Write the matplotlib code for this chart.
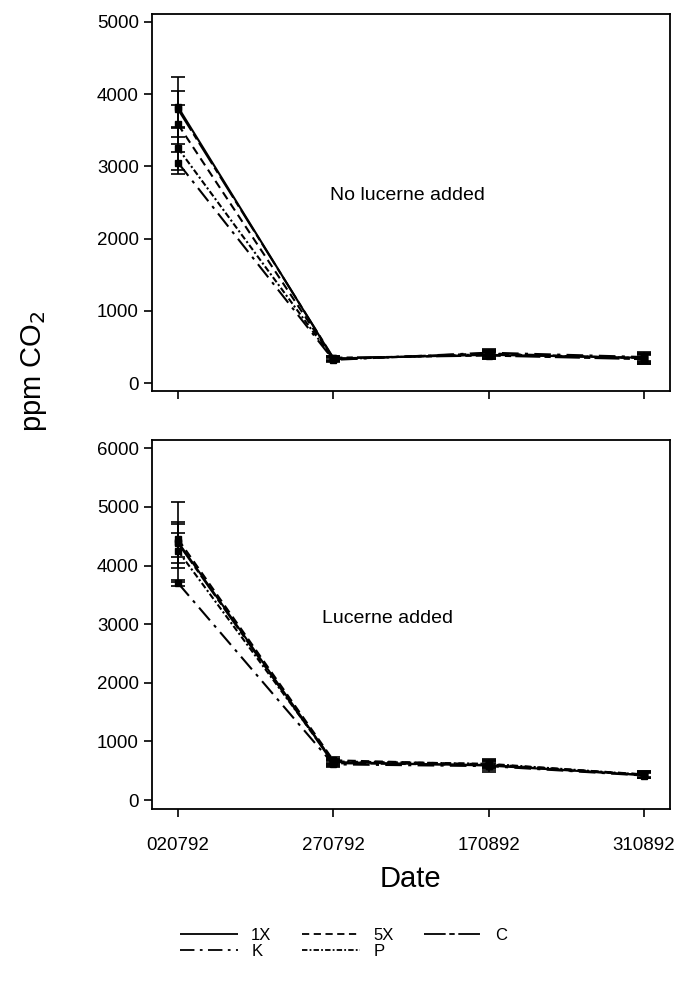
import matplotlib
matplotlib.use("Agg")
import matplotlib.pyplot as plt
from matplotlib.lines import Line2D

plt.rcParams['font.family'] = ['Liberation Sans', 'DejaVu Sans']

dates = ['020792', '270792', '170892', '310892']
series = ['1X', '5X', 'C', 'K', 'P']

# No lucerne added
top_vals = {
    '1X': [3820, 340, 390, 350],
    '5X': [3580, 330, 410, 340],
    'C':  [3790, 350, 380, 330],
    'K':  [3050, 320, 420, 360],
    'P':  [3250, 330, 400, 345],
}
top_err = {
    '1X': [420, 30, 60, 80],
    '5X': [270, 30, 50, 60],
    'C':  [260, 30, 50, 60],
    'K':  [150, 30, 50, 60],
    'P':  [300, 30, 50, 60],
}
# Lucerne added
bot_vals = {
    '1X': [4400, 650, 590, 430],
    '5X': [4450, 680, 610, 440],
    'C':  [4380, 630, 600, 425],
    'K':  [3700, 610, 580, 420],
    'P':  [4250, 660, 620, 435],
}
bot_err = {
    '1X': [680, 50, 110, 60],
    '5X': [300, 50, 60, 50],
    'C':  [330, 50, 60, 50],
    'K':  [50, 50, 60, 50],
    'P':  [300, 50, 60, 50],
}

styles = {
    '1X': (0, ()),
    '5X': (0, (4, 2.5)),
    'C':  (0, (12, 2, 3, 2)),
    'K':  (0, (8, 3, 1.5, 3)),
    'P':  (0, (3, 1.2, 1, 1.2)),
}

fig = plt.figure(figsize=(6.8, 9.91), dpi=100)
ax1 = fig.add_axes([0.2235, 0.6055, 0.7615, 0.3804])
ax2 = fig.add_axes([0.2235, 0.1837, 0.7615, 0.3723])

x = list(range(len(dates)))
for ax, vals, errs in ((ax1, top_vals, top_err), (ax2, bot_vals, bot_err)):
    for s in series:
        ax.errorbar(x, vals[s], yerr=errs[s], color='black', linestyle=styles[s],
                    linewidth=1.5, marker='s', markersize=4, capsize=5,
                    elinewidth=1.2, capthick=1.2)
    ax.set_xlim(-0.168, 3.168)
    ax.set_xticks(x)
    ax.tick_params(axis='both', direction='out', length=6, width=1.2,
                   labelsize=13.5, colors='black')
    for sp in ax.spines.values():
        sp.set_linewidth(1.3)

ax1.set_ylim(-110, 5110)
ax1.set_yticks([0, 1000, 2000, 3000, 4000, 5000])
ax1.set_xticklabels([])
ax1.text(1.48, 2600, 'No lucerne added', fontsize=14, ha='center', va='center')

ax2.set_ylim(-150, 6140)
ax2.set_yticks([0, 1000, 2000, 3000, 4000, 5000, 6000])
ax2.set_xticklabels(dates)
ax2.tick_params(axis='x', pad=14)
ax2.text(1.35, 3100, 'Lucerne added', fontsize=14, ha='center', va='center')
ax2.set_xlabel('Date', fontsize=21, labelpad=8)

fig.text(0.05, 0.625, 'ppm CO$_2$', rotation=90, fontsize=21, ha='center', va='center')

handles = {s: Line2D([0], [0], color='black', linestyle=styles[s], linewidth=1.3) for s in series}
order = ['1X', 'K', '5X', 'P', 'C']
fig.legend([handles[s] for s in order], order, loc='center', ncol=3,
           bbox_to_anchor=(0.505, 0.048), frameon=False, fontsize=12,
           handlelength=3.5, columnspacing=1.8, labelspacing=0.1, handletextpad=0.8)

fig.savefig('out.png', dpi=100)
